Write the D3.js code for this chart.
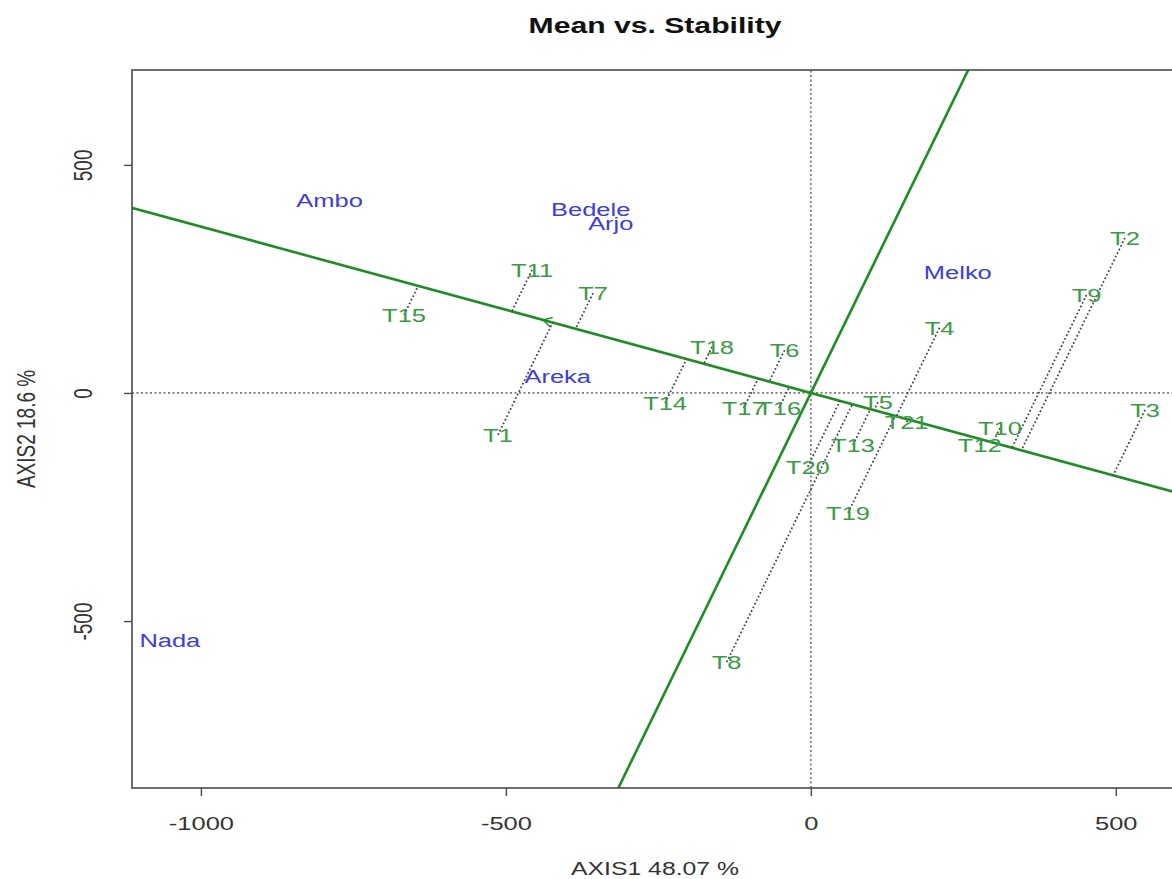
<!DOCTYPE html>
<html>
<head>
<meta charset="utf-8">
<script src="https://cdn.jsdelivr.net/npm/d3@7/dist/d3.min.js"></script>
<style>
  body { margin: 0; background: #fff; }
  text { font-family: "Liberation Sans", Arial, Helvetica, sans-serif; }
</style>
</head>
<body>
<svg id="chart" width="1172" height="879"></svg>
<script>
// GGE biplot, "Mean vs. Stability" view: genotype and environment scores on AXIS1/AXIS2
const genotypes = ["T1","T2","T3","T4","T5","T6","T7","T8","T9","T10","T11",
                   "T12","T13","T14","T15","T16","T17","T18","T19","T20","T21"];
const genoX = [-513, 515, 548, 211, 110, -43, -357, -138, 452, 310, -457,
               277, 69, -239, -667, -52, -110, -162, 61, -5, 157];
const genoY = [-92, 340, -37, 143, -20, 94, 219, -590, 215, -77, 270,
               -114, -114, -22, 171, -33, -33, 101, -263, -162, -64];

const environments = ["Ambo", "Bedele", "Arjo", "Areka", "Melko", "Nada"];
const envX = [-789, -361, -328, -415, 241, -1051];
const envY = [423, 404, 373, 37, 265, -542];

// average-environment coordinates (defines the average-environment axis)
const meanEnv = [-439, 160];

const xTicks = [-1000, -500, 0, 500];
const yTicks = [-500, 0, 500];
const xDomain = [-1113, 602];
const yDomain = [-866, 708];

const titleText = "Mean vs. Stability";
const xTitle = "AXIS1 48.07 %";
const yTitle = "AXIS2 18.6 %";

// layout
const plot = { left: 132, right: 1178, top: 70, bottom: 788 };
const SX = 1.34;          // horizontal stretch of the glyphs
const FONT = 19;
const lineGreen = "#1f8c25";
const genoColor = "#3a9a45";
const envColor = "#3c3ce0";

const svg = d3.select("#chart");
const x = d3.scaleLinear().domain(xDomain).range([plot.left, plot.right]);
const y = d3.scaleLinear().domain(yDomain).range([plot.bottom, plot.top]);

svg.append("defs").append("clipPath").attr("id", "plotClip")
  .append("rect")
  .attr("x", plot.left).attr("y", plot.top)
  .attr("width", plot.right - plot.left).attr("height", plot.bottom - plot.top);

const inner = svg.append("g").attr("clip-path", "url(#plotClip)");

// reference lines through the origin
inner.append("line")
  .attr("x1", x(xDomain[0])).attr("x2", x(xDomain[1]))
  .attr("y1", y(0)).attr("y2", y(0))
  .attr("stroke", "#7a7a7a").attr("stroke-width", 1.7)
  .attr("stroke-dasharray", "2,2.5");
inner.append("line")
  .attr("x1", x(0)).attr("x2", x(0))
  .attr("y1", y(yDomain[0])).attr("y2", y(yDomain[1]))
  .attr("stroke", "#7a7a7a").attr("stroke-width", 1.7)
  .attr("stroke-dasharray", "2,2.5");

// average-environment axis and its perpendicular through the origin
const [mx, my] = meanEnv;
const big = 5000;
inner.append("line")
  .attr("x1", x(-big)).attr("y1", y(-big * my / mx))
  .attr("x2", x(big)).attr("y2", y(big * my / mx))
  .attr("stroke", lineGreen).attr("stroke-width", 2.6);
inner.append("line")
  .attr("x1", x(-big)).attr("y1", y(-big * (-mx / my)))
  .attr("x2", x(big)).attr("y2", y(big * (-mx / my)))
  .attr("stroke", lineGreen).attr("stroke-width", 2.6);

// arrow head at the average environment
(function () {
  const tx = x(mx), ty = y(my);
  const ox = x(0), oy = y(0);
  const ang = Math.atan2(oy - ty, ox - tx);
  const len = 10, spread = Math.PI / 6;
  [ang - spread, ang + spread].forEach(a => {
    inner.append("line")
      .attr("x1", tx).attr("y1", ty)
      .attr("x2", tx + len * Math.cos(a)).attr("y2", ty + len * Math.sin(a))
      .attr("stroke", lineGreen).attr("stroke-width", 1.4);
  });
})();

// dotted projections of genotypes onto the average-environment axis
const mm = mx * mx + my * my;
const genoData = genotypes.map((g, i) => {
  const t = (genoX[i] * mx + genoY[i] * my) / mm;
  return { name: g, gx: genoX[i], gy: genoY[i], px: t * mx, py: t * my };
});
inner.selectAll("line.proj").data(genoData).join("line")
  .attr("class", "proj")
  .attr("x1", d => x(d.gx)).attr("y1", d => y(d.gy))
  .attr("x2", d => x(d.px)).attr("y2", d => y(d.py))
  .attr("stroke", "#444").attr("stroke-width", 1.7)
  .attr("stroke-dasharray", "1.8,2.2");

// genotype labels
inner.selectAll("text.geno").data(genoData).join("text")
  .attr("class", "geno")
  .attr("transform", d => `translate(${x(d.gx)},${y(d.gy)}) scale(${SX},1)`)
  .attr("text-anchor", "middle").attr("dy", "0.36em")
  .attr("font-size", FONT).attr("fill", genoColor)
  .text(d => d.name);

// environment labels
const envData = environments.map((e, i) => ({ name: e, ex: envX[i], ey: envY[i] }));
inner.selectAll("text.env").data(envData).join("text")
  .attr("class", "env")
  .attr("transform", d => `translate(${x(d.ex)},${y(d.ey)}) scale(${SX},1)`)
  .attr("text-anchor", "middle").attr("dy", "0.36em")
  .attr("font-size", FONT).attr("fill", envColor)
  .text(d => d.name);

// plot frame
svg.append("rect")
  .attr("x", plot.left).attr("y", plot.top)
  .attr("width", plot.right - plot.left).attr("height", plot.bottom - plot.top)
  .attr("fill", "none").attr("stroke", "#4a4a4a").attr("stroke-width", 1.6);

// bottom axis
const xAxis = svg.append("g").attr("transform", `translate(0,${plot.bottom})`)
  .call(d3.axisBottom(x).tickValues(xTicks).tickSize(8).tickFormat(d => String(d)));
xAxis.select(".domain").remove();
xAxis.selectAll(".tick line").attr("stroke", "#4a4a4a").attr("stroke-width", 1.4);
xAxis.selectAll(".tick text")
  .attr("font-size", FONT).attr("fill", "#333")
  .attr("font-family", "Liberation Sans, Arial, sans-serif")
  .attr("y", 0).attr("dy", 0)
  .attr("transform", `translate(0,42) scale(${SX},1)`);

// left axis
const yAxis = svg.append("g").attr("transform", `translate(${plot.left},0)`)
  .call(d3.axisLeft(y).tickValues(yTicks).tickSize(8).tickFormat(d => String(d)));
yAxis.select(".domain").remove();
yAxis.selectAll(".tick line").attr("stroke", "#4a4a4a").attr("stroke-width", 1.4);
yAxis.selectAll(".tick text")
  .attr("font-size", FONT).attr("fill", "#333")
  .attr("font-family", "Liberation Sans, Arial, sans-serif")
  .attr("x", 0).attr("dy", 0).attr("text-anchor", "middle")
  .attr("transform", `translate(-40,0) scale(${SX},1) rotate(-90)`);

// titles
const midX = (plot.left + plot.right) / 2;
svg.append("text")
  .attr("transform", `translate(${midX},33) scale(${SX},1)`)
  .attr("text-anchor", "middle").attr("font-size", 22.5).attr("font-weight", "bold")
  .attr("fill", "#111").text(titleText);
svg.append("text")
  .attr("transform", `translate(${midX},875) scale(${SX},1)`)
  .attr("text-anchor", "middle").attr("font-size", 18.5).attr("fill", "#333")
  .text(xTitle);
svg.append("text")
  .attr("transform", `translate(35,${(plot.top + plot.bottom) / 2}) scale(${SX},1) rotate(-90)`)
  .attr("text-anchor", "middle").attr("font-size", FONT).attr("fill", "#333")
  .text(yTitle);
</script>
</body>
</html>
